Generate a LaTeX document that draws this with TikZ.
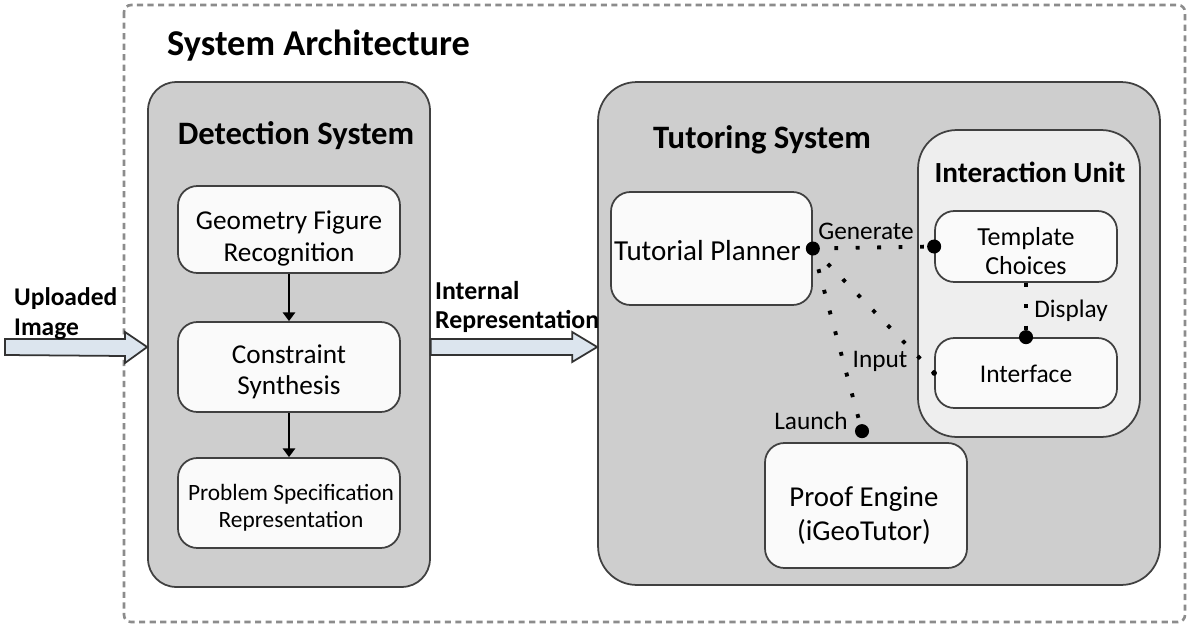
\documentclass[tikz,border=0pt]{standalone}
\usepackage{fontspec}
\setmainfont{Carlito}
\usetikzlibrary{arrows.meta,calc}

\definecolor{sysgray}{RGB}{206,206,206}
\definecolor{unitgray}{RGB}{238,238,238}
\definecolor{boxwhite}{RGB}{250,250,250}
\definecolor{arrowblue}{RGB}{220,229,238}

\tikzset{
  outerbox/.style={draw=black!45, line width=1.5pt, dash pattern=on 3.5pt off 2.5pt, rounded corners=4pt},
  sysbox/.style={draw=black!75, line width=1pt, fill=sysgray, rounded corners=16pt, inner sep=0pt},
  unitbox/.style={draw=black!75, line width=1pt, fill=unitgray, rounded corners=22pt, inner sep=0pt},
  stepbox/.style={draw=black!75, line width=1pt, fill=boxwhite, rounded corners=11pt, inner sep=0pt},
  steptext/.style={align=center, font=\fontsize{15.5}{18}\selectfont},
  title/.style={font=\bfseries\fontsize{18.6}{22}\selectfont},
  fatarrow/.style={draw=black!80, line width=1pt, fill=arrowblue},
  flow/.style={-{Triangle[width=7pt,length=5pt]}, line width=1.2pt},
  dotline/.style={line width=2.2pt, dash pattern=on 2.2pt off 10pt},
  lbl/.style={font=\fontsize{14.4}{17}\selectfont}
}

\begin{document}
\begin{tikzpicture}[x=0.02cm,y=-0.02cm]
    \useasboundingbox (0,0) rectangle (1197,629);

    % outer frame
    \draw[outerbox] (124,5) rectangle (1185,622);
    \node[anchor=west, font=\bfseries\fontsize{20.7}{24}\selectfont] (systitle) at (161,46) {System Architecture};

    % detection system
    \node[sysbox, minimum width=5.64cm, minimum height=10.1cm] (det) at (289,334.5) {};
    \node[title] (dettitle) at (296,136) {Detection System};

    \node[stepbox, minimum width=4.44cm, minimum height=1.74cm] (gfr) at (289,229.5) {};
    \node[steptext] (gfrtext) at ($(gfr)+(0,9)$) {Geometry Figure\\Recognition};
    \node[stepbox, minimum width=4.44cm, minimum height=1.8cm] (cs) at (289,367) {};
    \node[steptext] (cstext) at ($(cs)+(0,5)$) {Constraint\\Synthesis};
    \node[stepbox, minimum width=4.44cm, minimum height=1.8cm] (psr) at (289,503) {};
    \node[steptext, font=\fontsize{13.3}{15.5}\selectfont] (psrtext) at ($(psr)+(2,5)$) {Problem Specification\\Representation};

    \draw[flow] (gfr) -- (cs);
    \draw[flow] (cs) -- (psr);

    % tutoring system
    \node[sysbox, rounded corners=22pt, minimum width=11.24cm, minimum height=10.06cm] (tut) at (879,333.5) {};
    \node[title] (tuttitle) at (762,140) {Tutoring System};

    \node[stepbox, minimum width=4.02cm, minimum height=2.26cm] (tp) at (711.5,248.5) {};
    \node[steptext, font=\fontsize{16.5}{19}\selectfont] (tptext) at ($(tp)+(-4,2)$) {Tutorial Planner};
    \node[stepbox, minimum width=4.04cm, minimum height=2.5cm] (pe) at (866,505.5) {};
    \node[steptext, font=\fontsize{16.4}{19}\selectfont] (petext) at ($(pe)+(-2,10)$) {Proof Engine\\(iGeoTutor)};

    % interaction unit
    \node[unitbox, minimum width=4.44cm, minimum height=6.14cm] (iu) at (1029,283.5) {};
    \node[font=\bfseries\fontsize{16.6}{19}\selectfont] (iutitle) at (1030,172) {Interaction Unit};
    \node[stepbox, minimum width=3.64cm, minimum height=1.42cm] (tc) at (1026,246.5) {};
    \node[steptext, font=\fontsize{14.8}{16.5}\selectfont] (tctext) at ($(tc)+(0,5)$) {Template\\Choices};
    \node[stepbox, minimum width=3.64cm, minimum height=1.4cm] (if) at (1026,373) {};
    \node[steptext, font=\fontsize{14.5}{17}\selectfont] (iftext) at ($(if)+(0,1)$) {Interface};

    % input arrows
    \coordinate (upl) at (5,347);
    \draw[fatarrow] ($(upl)+(0,-8)$) -- ++(120,0) -- ++(0,-7) -- (det.west |- upl) -- ($(upl)+(120,16)$) -- ++(0,-7) -- ($(upl)+(0,8)$) -- cycle;
    \node[anchor=west, align=left, font=\bfseries\fontsize{14.5}{17}\selectfont] (upltext) at (8,314) {Uploaded\\Image};

    \coordinate (irep) at (det.east |- upl);
    \draw[fatarrow] ($(irep)+(0,-8)$) -- ($(tut.west |- irep)+(-25,-8)$) -- ++(0,-7) -- (tut.west |- irep) -- ($(tut.west |- irep)+(-25,15)$) -- ++(0,-7) -- ($(irep)+(0,8)$) -- cycle;
    \node[anchor=west, align=left, font=\bfseries\fontsize{14.7}{17}\selectfont] (ireptext) at (429,307) {Internal\\Representation};

    % dotted links
    \coordinate (launch) at ($(pe.north)+(-4,-11)$);
    \draw[dotline] (tp.east) -- (tc.west);
    \draw[dotline] (tp.east) -- (if.west);
    \draw[dotline] (tp.east) -- (launch);
    \draw[dotline] (tc.south) -- (if.north);

    \fill (tp.east) circle (4pt);
    \fill (tc.west) circle (4pt);
    \fill (if.north) circle (4pt);
    \fill (launch) circle (4pt);
    \fill (if.west) circle (1.6pt);

    \node[lbl] (gen) at (866,231) {Generate};
    \node[lbl] (disp) at (1071,311) {Display};
    \node[lbl] (inp) at (880,361) {Input};
    \node[lbl] (lau) at (811,421) {Launch};
\end{tikzpicture}
\end{document}
